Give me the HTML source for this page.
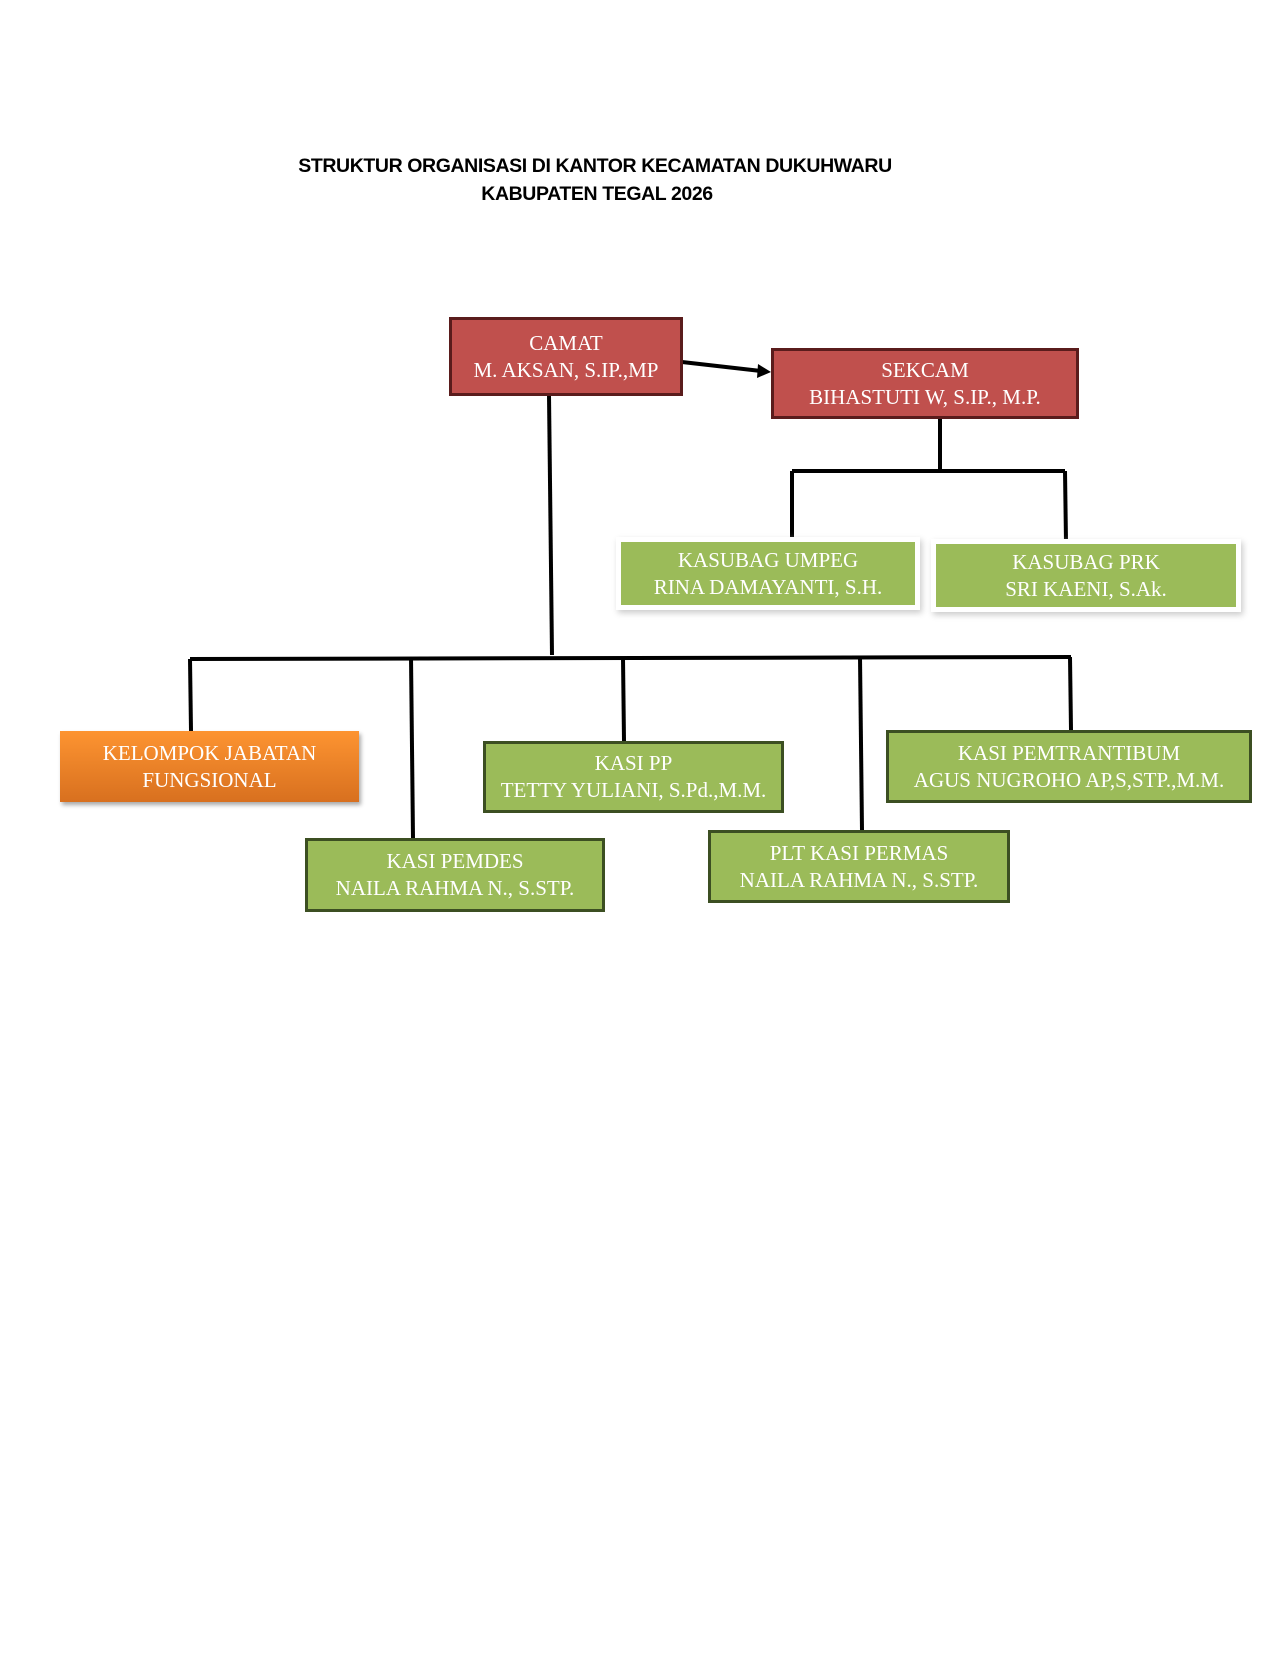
<!DOCTYPE html>
<html><head><meta charset="utf-8"><style>
body{margin:0;background:#fff;width:1275px;height:1650px;position:relative;overflow:hidden}
#w{position:absolute;left:3px;top:3px;width:1275px;height:1650px}
.t{position:absolute;font-family:"Liberation Sans",sans-serif;font-weight:bold;font-size:19.5px;color:#000;text-align:center;letter-spacing:-0.4px}
.b{position:absolute;box-sizing:border-box;display:flex;flex-direction:column;justify-content:center;align-items:center;font-family:"Liberation Serif",serif;color:#fff;font-size:21px;line-height:27px;text-align:center;white-space:nowrap}
.r{background:#c0504d;border:3px solid #5a1c1c}
.g{background:#9bbb59;border:3px solid #3c4f22}
.gw{background:#9bbb59;border:0;box-shadow:0 0 0 5px #fff,2px 3px 6px 5px #ccc}
.o{background:linear-gradient(#fd9431,#d8701f);box-shadow:2px 3px 4px #aaa}
</style></head><body><div id="w">
<div class="t" style="left:0;top:152px;width:1184px">STRUKTUR ORGANISASI DI KANTOR KECAMATAN DUKUHWARU</div>
<div class="t" style="left:0;top:180px;width:1188px">KABUPATEN TEGAL 2026</div>
<svg style="position:absolute;left:0;top:0" width="1275" height="1650">
<g stroke="#000" stroke-width="4" fill="none">
<line x1="546" y1="392" x2="549" y2="652"/>
<line x1="187" y1="656" x2="1068" y2="654"/>
<line x1="187" y1="656" x2="188" y2="728"/>
<line x1="408" y1="654" x2="410" y2="835"/>
<line x1="620" y1="655" x2="621" y2="738"/>
<line x1="857" y1="654" x2="859" y2="827"/>
<line x1="1067" y1="654" x2="1068" y2="727"/>
<line x1="937" y1="415" x2="937" y2="468"/>
<line x1="789" y1="468" x2="1062" y2="468"/>
<line x1="789" y1="468" x2="789" y2="539"/>
<line x1="1062" y1="468" x2="1063" y2="539"/>
<line x1="679" y1="359" x2="758" y2="368"/>
</g>
<polygon points="768,369 755,361 754,375" fill="#000"/>
</svg>
<div class="b r" style="left:446px;top:314px;width:234px;height:79px">CAMAT<br>M. AKSAN, S.IP.,MP</div>
<div class="b r" style="left:768px;top:345px;width:308px;height:71px">SEKCAM<br>BIHASTUTI W, S.IP., M.P.</div>
<div class="b gw" style="left:618px;top:539px;width:294px;height:63px">KASUBAG UMPEG<br>RINA DAMAYANTI, S.H.</div>
<div class="b gw" style="left:933px;top:541px;width:300px;height:63px">KASUBAG PRK<br>SRI KAENI, S.Ak.</div>
<div class="b o" style="left:57px;top:728px;width:299px;height:71px">KELOMPOK JABATAN<br>FUNGSIONAL</div>
<div class="b g" style="left:480px;top:738px;width:301px;height:72px">KASI PP<br>TETTY YULIANI, S.Pd.,M.M.</div>
<div class="b g" style="left:883px;top:727px;width:366px;height:73px">KASI PEMTRANTIBUM<br>AGUS NUGROHO AP,S,STP.,M.M.</div>
<div class="b g" style="left:302px;top:835px;width:300px;height:74px">KASI PEMDES<br>NAILA RAHMA N., S.STP.</div>
<div class="b g" style="left:705px;top:827px;width:302px;height:73px">PLT KASI PERMAS<br>NAILA RAHMA N., S.STP.</div>
</div></body></html>
